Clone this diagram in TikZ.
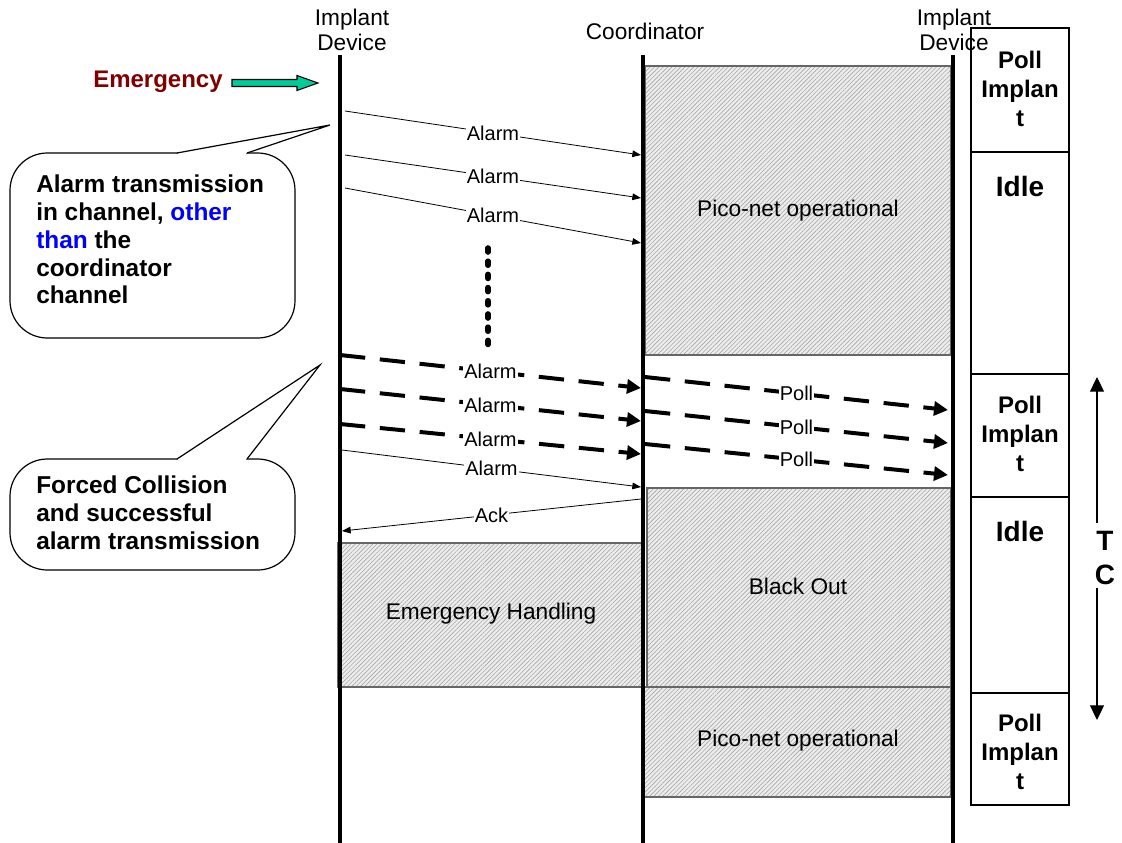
\documentclass[tikz,border=0pt]{standalone}
\usepackage{fontspec}
\setmainfont{Liberation Sans}
\usetikzlibrary{arrows.meta,patterns.meta}
\definecolor{emred}{RGB}{128,0,0}
\definecolor{arrowgreen}{RGB}{0,204,153}
\definecolor{linkblue}{RGB}{0,0,255}

\begin{document}
\begin{tikzpicture}[x=0.75pt,y=-0.75pt,
  lifeline/.style={line width=3pt},
  hatchbox/.style={draw=gray!80!black, line width=0.8pt, preaction={fill=gray!14},
    pattern={Lines[angle=45,distance=2.3pt,line width=0.45pt]}, pattern color=gray!70},
  msg/.style={line width=0.6pt, -{Triangle[length=6.5pt,width=5pt]}},
  collide/.style={line width=3pt, dash pattern=on 19pt off 11pt, -{Triangle[length=10.5pt,width=10.5pt]}},
  lbl/.style={fill=white, inner sep=0.8pt, font=\fontsize{15}{17}\selectfont},
  head/.style={align=center, font=\fontsize{17}{19}\selectfont},
  boxtext/.style={font=\fontsize{17}{20}\selectfont},
  slot/.style={draw, line width=1.1pt},
  slottext/.style={align=center, font=\bfseries\fontsize{18}{21.5}\selectfont},
  idletext/.style={font=\bfseries\fontsize{21}{24}\selectfont},
  calloutline/.style={line width=0.9pt},
  callouttext/.style={align=left, anchor=north west, inner sep=0pt, font=\bfseries\fontsize{18.3}{20.8}\selectfont},
  period/.style={line width=0.8pt, -{Triangle[length=11pt,width=10.5pt]}},
]
\useasboundingbox (0,0) rectangle (1122,843);

% ---- lifeline headings ----
\node[head] (hdA) at (352,30) {Implant\\Device};
\node[head] (hdC) at (645,31) {Coordinator};
\node[head] (hdB) at (954,30) {Implant\\Device};

% ---- coordinator / implant activity periods ----
\draw[hatchbox] (645,66) rectangle (951,355);
\node[boxtext] (pico1) at (798,211) {Pico-net operational};
\draw[hatchbox] (647,488) rectangle (951,687);
\node[boxtext] (blackout) at (798,586) {Black Out};
\draw[hatchbox] (338,543) rectangle (643,687);
\node[boxtext] (handling) at (491,614) {Emergency Handling};
\draw[hatchbox] (643,687) rectangle (951,797);
\node[boxtext] (pico2) at (798,741) {Pico-net operational};

% ---- lifelines ----
\coordinate (Atop) at (340,55);  \coordinate (Abot) at (340,843);
\coordinate (Ctop) at (643,55);  \coordinate (Cbot) at (643,843);
\coordinate (Btop) at (953,55);  \coordinate (Bbot) at (953,843);
\draw[lifeline] (Atop) -- (Abot);
\draw[lifeline] (Ctop) -- (Cbot);
\draw[lifeline] (Btop) -- (Bbot);

% ---- emergency trigger ----
\node[text=emred, font=\bfseries\fontsize{18}{20}\selectfont] (emerg) at (158,82) {Emergency};
\draw[fill=arrowgreen, line width=0.8pt] (232,79.5) -- (297,79.5) -- (297,75.5) -- (318,83)
  -- (297,90.5) -- (297,86.5) -- (232,86.5) -- cycle;

% ---- alarms sent on a foreign channel ----
\coordinate (a1s) at (345,111); \coordinate (a1e) at (641,155);
\coordinate (a2s) at (345,155); \coordinate (a2e) at (641,198);
\coordinate (a3s) at (345,188); \coordinate (a3e) at (641,243);
\draw[msg] (a1s) -- node[lbl] {Alarm} (a1e);
\draw[msg] (a2s) -- node[lbl] {Alarm} (a2e);
\draw[msg] (a3s) -- node[lbl] {Alarm} (a3e);

% continuation dots
\coordinate (dotsA) at (488,248); \coordinate (dotsB) at (488,353);
\draw[line width=4.2pt, line cap=round, dash pattern=on 3pt off 6.9pt] (dotsA) -- (dotsB);

% ---- forced collision with the polls ----
\coordinate (f1s) at (340,355); \coordinate (f1e) at (641,388);
\coordinate (f2s) at (340,389); \coordinate (f2e) at (641,421);
\coordinate (f3s) at (340,424); \coordinate (f3e) at (641,454);
\draw[collide] (f1s) -- node[lbl] {Alarm} (f1e);
\draw[collide] (f2s) -- node[lbl] {Alarm} (f2e);
\draw[collide] (f3s) -- node[lbl] {Alarm} (f3e);

\coordinate (p1s) at (645,377); \coordinate (p1e) at (948,410);
\coordinate (p2s) at (645,411); \coordinate (p2e) at (948,443);
\coordinate (p3s) at (645,444); \coordinate (p3e) at (948,475);
\draw[collide] (p1s) -- node[lbl] {Poll} (p1e);
\draw[collide] (p2s) -- node[lbl] {Poll} (p2e);
\draw[collide] (p3s) -- node[lbl] {Poll} (p3e);

% ---- successful alarm and acknowledgement ----
\coordinate (a4s) at (342,450); \coordinate (a4e) at (641,487);
\draw[msg] (a4s) -- node[lbl] {Alarm} (a4e);
\coordinate (ks) at (641,499); \coordinate (ke) at (342,531);
\draw[msg] (ks) -- node[lbl] {Ack} (ke);

% ---- callouts ----
\draw[calloutline, fill=white, rounded corners=28pt] (10,153) rectangle (295,338);
\fill[white] (177,153) -- (330,125) -- (247,153) -- cycle;
\draw[white, line width=2pt] (178,153) -- (246,153);
\draw[calloutline, line join=miter] (177,153) -- (330,125) -- (247,153);
\node[callouttext] (c1) at (36,175) {Alarm transmission\\in channel, \textcolor{linkblue}{other}\\\textcolor{linkblue}{than} the\\coordinator\\channel};

\draw[calloutline, fill=white, rounded corners=28pt] (10,459) rectangle (295,570);
\fill[white] (177,459) -- (320,365) -- (247,459) -- cycle;
\draw[white, line width=2pt] (178,459) -- (246,459);
\draw[calloutline, line join=miter] (177,459) -- (320,365) -- (247,459);
\node[callouttext] (c2) at (36,476) {Forced Collision\\and successful\\alarm transmission};

% ---- implant time slots ----
\draw[slot] (971,28) rectangle (1069,152);
\node[slottext] (s1) at (1020,89) {Poll\\Implan\\t};
\draw[slot] (971,152) rectangle (1069,374);
\node[idletext] (s2) at (1020,186) {Idle};
\draw[slot] (971,374) rectangle (1069,497);
\node[slottext] (s3) at (1020,434) {Poll\\Implan\\t};
\draw[slot] (971,497) rectangle (1069,693);
\node[idletext] (s4) at (1020,531) {Idle};
\draw[slot] (971,693) rectangle (1069,805);
\node[slottext] (s5) at (1020,752) {Poll\\Implan\\t};

% ---- cycle period ----
\node[align=center, font=\bfseries\fontsize{21}{25}\selectfont] (tc) at (1105,558) {T\\C};
\coordinate (tcA) at (1097,523); \coordinate (tcTop) at (1097,377);
\coordinate (tcB) at (1097,588); \coordinate (tcBot) at (1097,720);
\draw[period] (tcA) -- (tcTop);
\draw[period] (tcB) -- (tcBot);
\end{tikzpicture}
\end{document}
